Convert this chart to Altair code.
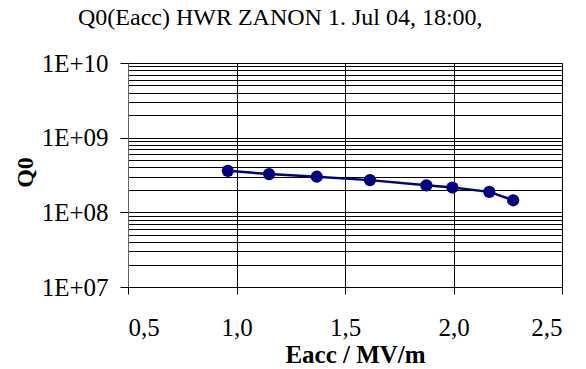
import altair as alt
import pandas as pd

eacc = [0.96, 1.15, 1.37, 1.615, 1.875, 1.995, 2.165, 2.275]
q0 = [3.6e8, 3.25e8, 3.0e8, 2.7e8, 2.3e8, 2.15e8, 1.88e8, 1.45e8]
x_ticks = [0.5, 1.0, 1.5, 2.0, 2.5]
y_decades = [1e7, 1e8, 1e9, 1e10]
y_minor = [m * d for d in [1e7, 1e8, 1e9] for m in range(2, 10)]

df = pd.DataFrame({"Eacc": eacc, "Q0": q0})
FONT = "Liberation Serif"
NAVY = "#000080"

xscale = alt.Scale(domain=[0.5, 2.5], nice=False, zero=False)
yscale = alt.Scale(type="log", domain=[1e7, 1e10], nice=False)

xaxis = alt.Axis(
    values=x_ticks, grid=True, gridColor="#000000", gridWidth=1,
    labelExpr="replace(format(datum.value, '.1f'), '.', ',')",
    labelFont=FONT, labelFontSize=25, labelColor="#000000", labelPadding=21,
    tickSize=7, tickColor="#000000", domainColor="#000000",
    title="Eacc / MV/m", titleFont=FONT, titleFontSize=25, titleFontWeight="bold",
    titleColor="#000000", titleX=227, titleY=75, titleBaseline="alphabetic",
    titleAlign="center",
)

yaxis = alt.Axis(
    values=y_decades, grid=True, gridColor="#000000", gridWidth=1,
    labelExpr="'1E+' + (round(log(datum.value)/LN10) < 10 ? '0' : '') + round(log(datum.value)/LN10)",
    labelFont=FONT, labelFontSize=25, labelColor="#000000", labelPadding=12,
    tickSize=8, tickColor="#000000", domainColor="#606060",
    title="Q0", titleFont=FONT, titleFontSize=24, titleFontWeight="bold",
    titleColor="#000000", titleAngle=-90, titleX=-103, titleY=109,
    titleAlign="center", titleBaseline="middle",
)

yaxis_minor = alt.Axis(
    values=y_minor, grid=True, gridColor="#000000", gridWidth=1,
    labels=False, ticks=False, domain=False, title=None, orient="right",
)

line = alt.Chart(df).mark_line(color=NAVY, strokeWidth=2.5).encode(
    x=alt.X("Eacc:Q", scale=xscale, axis=xaxis),
    y=alt.Y("Q0:Q", scale=yscale, axis=yaxis),
)
pts = alt.Chart(df).mark_point(filled=True, color=NAVY, size=150, opacity=1).encode(
    x=alt.X("Eacc:Q", scale=xscale),
    y=alt.Y("Q0:Q", scale=yscale, axis=yaxis_minor),
)

chart = alt.layer(pts, line).resolve_axis(y="independent").resolve_scale(y="shared").properties(
    width=434, height=224,
    autosize=alt.AutoSizeParams(type="none"),
    padding={"left": 128, "top": 63, "right": 24, "bottom": 82},
    title=alt.TitleParams(
        "Q0(Eacc) HWR ZANON 1. Jul 04, 18:00,", font=FONT, fontSize=24,
        fontWeight="normal", color="#000000", anchor="start", frame="group",
        dx=-50, baseline="alphabetic", offset=2,
    ),
    background="#ffffff",
).configure_view(stroke="#808080", strokeWidth=1)

chart.save("out.html", embed_options={"renderer": "svg", "actions": False})
